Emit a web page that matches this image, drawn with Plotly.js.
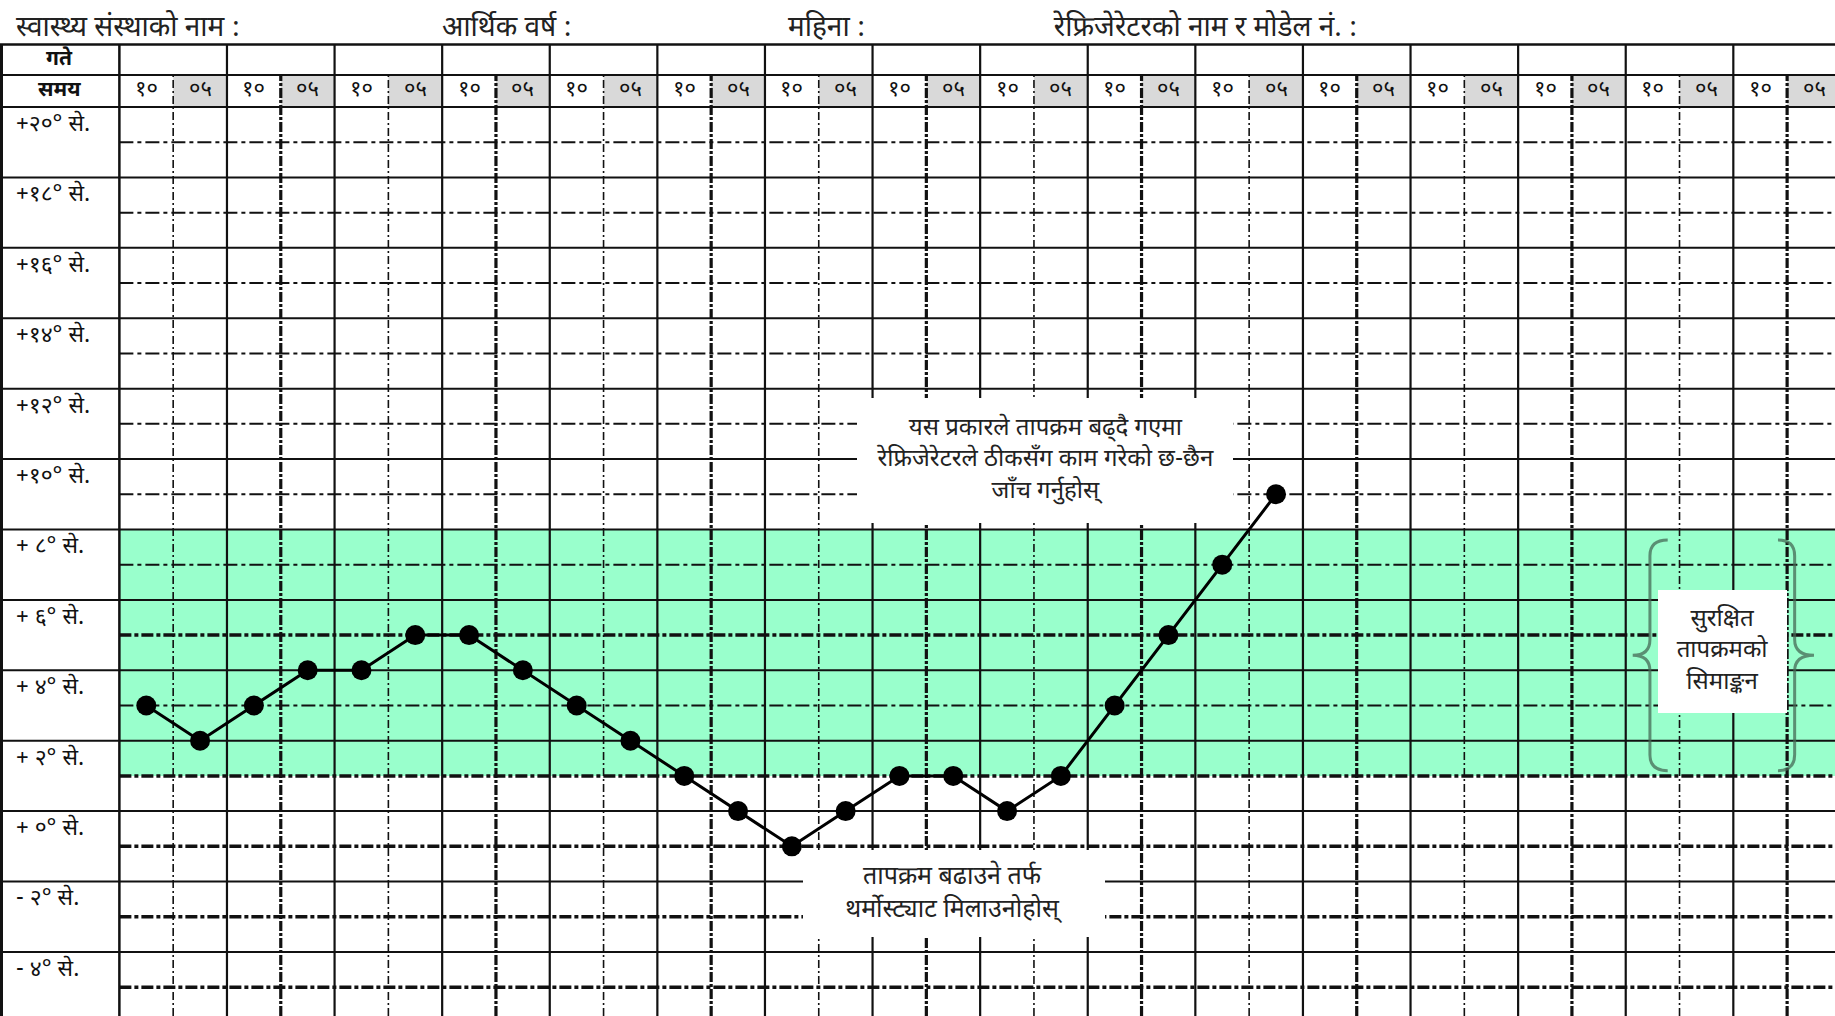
<!DOCTYPE html>
<html><head><meta charset="utf-8">
<script src="https://cdn.plot.ly/plotly-3.0.1.min.js"></script>
<style>html,body{margin:0;padding:0;background:#fff;}#chart{width:1835px;height:1016px;}</style>
</head><body><div id="chart"></div>
<script>
// ---------------- data ----------------
const headerFields = ['स्वास्थ्य संस्थाको नाम :', 'आर्थिक वर्ष :', 'महिना :', 'रेफ्रिजेरेटरको नाम र मोडेल नं. :'];
const dateHeader = 'गते';
const timeHeader = 'समय';
const timeSlots = ['१०', '०५'];
const dayCount = 16;
const rowTemps = [20, 18, 16, 14, 12, 10, 8, 6, 4, 2, 0, -2, -4];
const rowLabels = ['+२०° से.', '+१८° से.', '+१६° से.', '+१४° से.', '+१२° से.', '+१०° से.', '+ ८° से.', '+ ६° से.', '+ ४° से.', '+ २° से.', '+ ०° से.', '- २° से.', '- ४° से.'];
const readingTemps = [4, 3, 4, 5, 5, 6, 6, 5, 4, 3, 2, 1, 0, 1, 2, 2, 1, 2, 4, 6, 8, 10];
const safeBand = [2, 9];
const noteRise = ['यस प्रकारले तापक्रम बढ्दै गएमा', 'रेफ्रिजेरेटरले ठीकसँग काम गरेको छ-छैन', 'जाँच गर्नुहोस्'];
const noteLow = ['तापक्रम बढाउने तर्फ', 'थर्मोस्ट्याट मिलाउनोहोस्'];
const noteSafe = ['सुरक्षित', 'तापक्रमको', 'सिमाङ्कन'];

// ---------------- layout constants (styling / geometry) ----------------
const FONT = "'Noto Sans Devanagari', 'Lohit Devanagari', 'FreeSans', 'Noto Sans', sans-serif";
const X0 = -2.719, X1 = 31.39, Y0 = -4.82, Y1 = 24.04;
const colPx = 53.8, rowPx = 35.2;
const headTop = 22.776, headMid = 21.912, gridTop = rowTemps[0] + 1;
const ink = '#111';

const shapes = [];
const annotations = [];
function hline(y, xa, xb, w, dash) {
  shapes.push({type: 'line', xref: 'x', yref: 'y', x0: xa, x1: xb, y0: y, y1: y, layer: 'below',
    line: {color: ink, width: w, dash: dash || 'solid'}});
}
function vline(x, ya, yb, w, dash) {
  shapes.push({type: 'line', xref: 'x', yref: 'y', x0: x, x1: x, y0: ya, y1: yb, layer: 'below',
    line: {color: ink, width: w, dash: dash || 'solid'}});
}

// safe band
shapes.push({type: 'rect', xref: 'x', yref: 'y', x0: -0.5, x1: X1, y0: safeBand[0], y1: safeBand[1],
  fillcolor: '#99ffcc', line: {width: 0}, layer: 'below'});

// gray header cells for second slot
for (let d = 0; d < dayCount; d++) {
  const i = 2 * d + 1;
  shapes.push({type: 'rect', xref: 'x', yref: 'y', x0: i - 0.5, x1: i + 0.5, y0: gridTop, y1: headMid,
    fillcolor: '#d9d9d9', line: {width: 0}, layer: 'below'});
}

// horizontal lines
hline(headTop, X0, X1, 2.5);
hline(headMid, X0, X1, 2);
rowTemps.forEach(t => hline(t + 1, X0, X1, 2));
rowTemps.forEach(t => {
  const heavy = (t <= 6 && t % 4 !== 0) || t <= 0;
  hline(t, -0.5, X1, heavy ? 3.5 : 2, heavy ? '12px,3px,4px,3px' : '14px,4px,4px,4px');
});

// vertical lines
vline(X0 + 1.5 / colPx, Y0, headTop, 3);
vline(-0.5, Y0, headTop, 2.5);
for (let d = 0; d < dayCount; d++) {
  vline(2 * d + 1.5, Y0, headTop, 2.2);
  vline(2 * d + 0.5, Y0, headMid, d % 2 === 1 ? 3.2 : 1.6, d % 2 === 1 ? '10px,2px,3px,2px' : '8px,3px,2px,3px');
}

// braces around the safe-band note
function brace(tipX, bodyX, endX, yTop, yBot) {
  const yMid = (yTop + yBot) / 2, c = 0.45;
  return `M ${endX},${yTop} Q ${bodyX},${yTop} ${bodyX},${yTop - c} L ${bodyX},${yMid + c} ` +
    `Q ${bodyX},${yMid} ${tipX},${yMid} Q ${bodyX},${yMid} ${bodyX},${yMid - c} ` +
    `L ${bodyX},${yBot + c} Q ${bodyX},${yBot} ${endX},${yBot}`;
}
const bTop = safeBand[1] - 0.3, bBot = safeBand[0] + 0.15;
shapes.push({type: 'path', xref: 'x', yref: 'y', layer: 'above', path: brace(27.63, 27.95, 28.28, bTop, bBot),
  line: {color: 'rgba(70,105,85,0.75)', width: 3}});
shapes.push({type: 'path', xref: 'x', yref: 'y', layer: 'above', path: brace(31.0, 30.64, 30.33, bTop, bBot),
  line: {color: 'rgba(70,105,85,0.75)', width: 3}});

// header fields above the table
const headerX = [14, 440, 786, 1051];
headerFields.forEach((t, k) => annotations.push({xref: 'paper', yref: 'y', x: headerX[k] / 1835, y: 23.22,
  xanchor: 'left', yanchor: 'middle', showarrow: false, text: t, font: {family: FONT, size: 28, color: '#222'}}));

// header cells
annotations.push({xref: 'x', yref: 'y', x: (X0 - 0.5) / 2, y: (headTop + headMid) / 2, showarrow: false,
  text: '<b>' + dateHeader + '</b>', font: {family: FONT, size: 21, color: ink}});
annotations.push({xref: 'x', yref: 'y', x: (X0 - 0.5) / 2, y: (headMid + gridTop) / 2, showarrow: false,
  text: '<b>' + timeHeader + '</b>', font: {family: FONT, size: 21, color: ink}});
for (let d = 0; d < dayCount; d++) {
  timeSlots.forEach((s, k) => annotations.push({xref: 'x', yref: 'y', x: 2 * d + k, y: (headMid + gridTop) / 2,
    showarrow: false, text: s, font: {family: FONT, size: 22, color: ink}}));
}

// row labels
rowTemps.forEach((t, k) => annotations.push({xref: 'x', yref: 'y', x: X0 + 14 / colPx, y: t + 0.49,
  xanchor: 'left', yanchor: 'middle', showarrow: false, text: rowLabels[k], font: {family: FONT, size: 23, color: ink}}));

// note boxes
function note(lines, x, y, w, h, size) {
  annotations.push({xref: 'x', yref: 'y', x: x, y: y, xanchor: 'center', yanchor: 'middle', showarrow: false,
    text: lines.join('<br>'), width: w, height: h, bgcolor: '#ffffff', borderpad: 0, borderwidth: 0,
    align: 'center', valign: 'middle', font: {family: FONT, size: size, color: '#222'}});
}
note(noteRise, 16.70, 10.96, 376, 125, 24);
note(noteLow, 15.02, -1.34, 302, 87, 25);
note(noteSafe, 29.30, 5.53, 129, 123, 24);

const trace = {
  type: 'scatter', mode: 'lines+markers',
  x: readingTemps.map((_, i) => i), y: readingTemps,
  line: {color: '#000', width: 3},
  marker: {color: '#000', size: 20},
  hoverinfo: 'skip', cliponaxis: false
};

const layout = {
  width: 1835, height: 1016, margin: {l: 0, r: 0, t: 0, b: 0},
  paper_bgcolor: '#fff', plot_bgcolor: '#fff', showlegend: false,
  xaxis: {range: [X0, X1], visible: false, fixedrange: true},
  yaxis: {range: [Y0, Y1], visible: false, fixedrange: true},
  shapes: shapes, annotations: annotations
};
Plotly.newPlot('chart', [trace], layout, {staticPlot: true, displayModeBar: false});
</script></body></html>
